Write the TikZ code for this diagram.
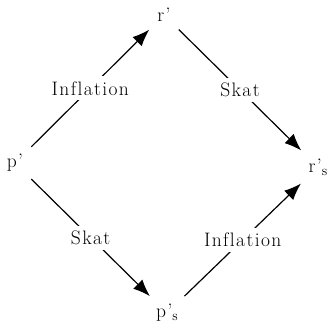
\documentclass[tikz,border=0pt]{standalone}
\usepackage{fontspec}
\usetikzlibrary{arrows.meta}
\newfontfamily\lblfont[LetterSpace=7,Ligatures={TeX,NoCommon}]{Latin Modern Roman}

\begin{document}
\begin{tikzpicture}[x=1pt,y=-1pt,
    v/.style={inner sep=8pt,font=\lblfont\fontsize{19.5}{22}\selectfont},
    l/.style={fill=white,inner sep=5pt,font=\lblfont\fontsize{19.5}{22}\selectfont},
    a/.style={-{Latex[length=17pt,width=13pt]},line width=1.2pt}]
    \useasboundingbox (0,0) rectangle (329,325);
    \node[v] (p) at (15,163) {p'};
    \node[v] (r) at (164,15) {r'};
    \node[v] (rs) at (318,167) {r'\raisebox{-0.35ex}{\fontsize{14}{16}\selectfont s}};
    \node[v] (ps) at (167,313) {p'\raisebox{-0.35ex}{\fontsize{14}{16}\selectfont s}};
    \draw[a] (p)--node[l]{Inflation} (r);
    \draw[a] (r)--node[l]{Skat} (rs);
    \draw[a] (p)--node[l]{Skat} (ps);
    \draw[a] (ps)--node[l]{Inflation} (rs);
  \end{tikzpicture}
\end{document}
